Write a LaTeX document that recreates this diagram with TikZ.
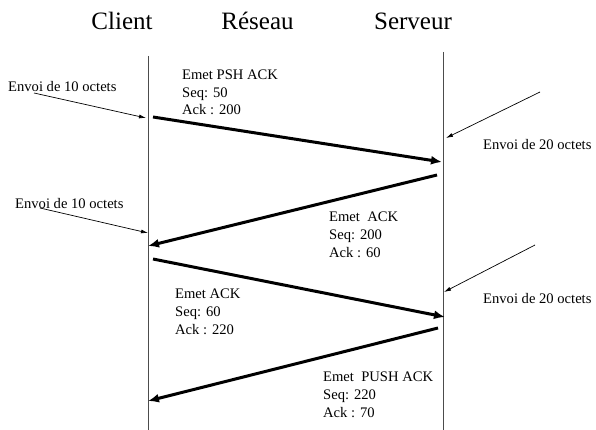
\documentclass[tikz,border=0pt]{standalone}
\usepackage{fontspec}
\setmainfont{Liberation Serif}
\usetikzlibrary{arrows.meta}
\begin{document}
\begin{tikzpicture}[x=1pt,y=-1pt,
  title/.style={font=\fontsize{25}{30}\selectfont, anchor=base, inner sep=0},
  lbl/.style={font=\fontsize{14.6}{17.8}\selectfont, anchor=base west, inner sep=0, align=left},
  life/.style={draw=black!70, line width=0.9pt},
  msg/.style={line width=3pt, -{Latex[length=11pt,width=9pt]}},
  note/.style={line width=0.7pt, -{Latex[length=7pt,width=4pt]}}]
\useasboundingbox (0,0) rectangle (596,430);
% titles
\node[title] (tc) at (122,30) {Client};
\node[title] (tr) at (257.5,30) {Réseau};
\node[title] (ts) at (413,30) {Serveur};
% lifelines
\coordinate (ct) at (148,56);
\coordinate (cb) at (148,430);
\coordinate (st) at (443,52);
\coordinate (sb) at (443,430);
\draw[life] (ct) -- (cb);
\draw[life] (st) -- (sb);
% labels
\node[lbl] (e1) at (8,92) {Envoi de 10 octets};
\node[lbl] (m1) at (182,115) {Emet PSH ACK\\Seq: 50\\Ack : 200};
\node[lbl] (s1) at (483,150) {Envoi de 20 octets};
\node[lbl] (e2) at (15,208) {Envoi de 10 octets};
\node[lbl] (m2) at (329,257) {Emet\ \ ACK\\Seq: 200\\Ack : 60};
\node[lbl] (m3) at (175,334) {Emet ACK\\Seq: 60\\Ack : 220};
\node[lbl] (s2) at (483,303) {Envoi de 20 octets};
\node[lbl] (m4) at (323,417) {Emet\ \ PUSH ACK\\Seq: 220\\Ack : 70};
% note arrows
\coordinate (n1a) at (34,93);
\coordinate (n1b) at (146,118);
\draw[note] (n1a) -- (n1b);
\coordinate (n2a) at (540,92);
\coordinate (n2b) at (446,138);
\draw[note] (n2a) -- (n2b);
\coordinate (n3a) at (40,208);
\coordinate (n3b) at (148,233);
\draw[note] (n3a) -- (n3b);
\coordinate (n4a) at (535,245);
\coordinate (n4b) at (444,292);
\draw[note] (n4a) -- (n4b);
% message arrows
\coordinate (a1) at (153,117);
\coordinate (b1) at (442,162);
\draw[msg] (a1) -- (b1);
\coordinate (a2) at (437,175);
\coordinate (b2) at (148,246);
\draw[msg] (a2) -- (b2);
\coordinate (a3) at (153,259);
\coordinate (b3) at (445,317);
\draw[msg] (a3) -- (b3);
\coordinate (a4) at (438,328);
\coordinate (b4) at (148,401);
\draw[msg] (a4) -- (b4);
\end{tikzpicture}
\end{document}
